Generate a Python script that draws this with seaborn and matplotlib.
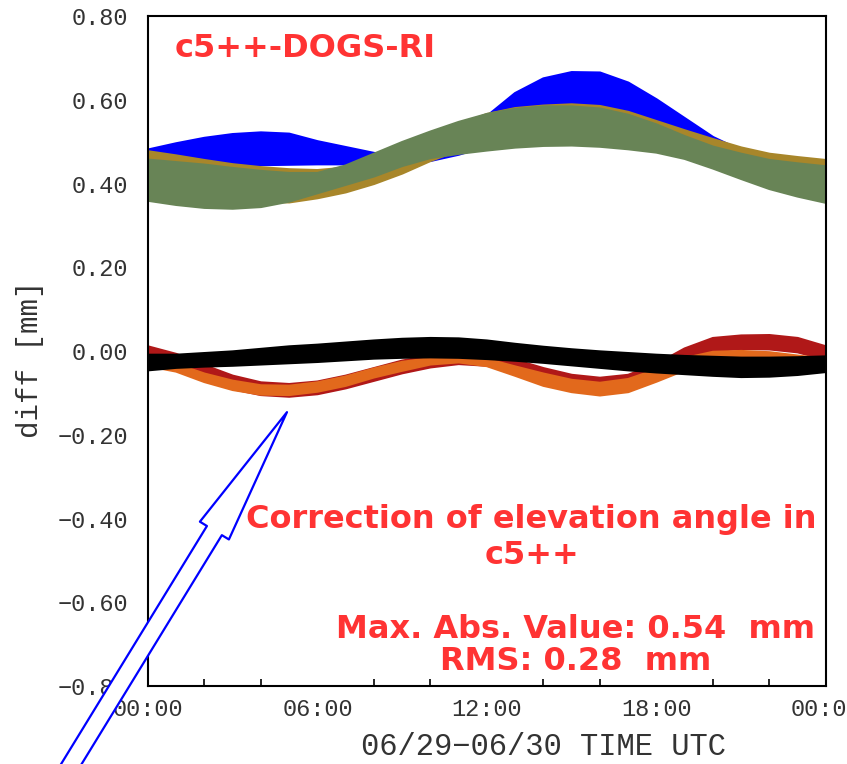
import numpy as np
import pandas as pd
import seaborn as sns
import matplotlib.pyplot as plt
from matplotlib.ticker import MultipleLocator

# hours of the day (06/29 00:00 -> 06/30 00:00)
hours = list(range(25))

# band envelopes (upper / lower edge), mm
blue_top = [0.480, 0.495, 0.508, 0.517, 0.521, 0.518, 0.500, 0.486, 0.472, 0.462, 0.470, 0.510, 0.560,
            0.615, 0.650, 0.665, 0.664, 0.640, 0.600, 0.555, 0.510, 0.478, 0.460, 0.450, 0.440]
blue_bot = [0.440, 0.440, 0.442, 0.444, 0.445, 0.446, 0.447, 0.447, 0.448, 0.451, 0.455, 0.470, 0.490,
            0.505, 0.515, 0.520, 0.520, 0.515, 0.505, 0.490, 0.470, 0.455, 0.440, 0.425, 0.410]
gold_top = [0.476, 0.466, 0.455, 0.445, 0.438, 0.433, 0.431, 0.437, 0.452, 0.480, 0.510, 0.540, 0.565,
            0.579, 0.585, 0.588, 0.584, 0.570, 0.548, 0.526, 0.505, 0.485, 0.470, 0.462, 0.455]
gold_bot = [0.395, 0.385, 0.375, 0.366, 0.358, 0.356, 0.366, 0.380, 0.400, 0.425, 0.455, 0.480, 0.500,
            0.515, 0.522, 0.525, 0.525, 0.522, 0.512, 0.498, 0.484, 0.468, 0.452, 0.442, 0.435]
green_top = [0.456, 0.450, 0.444, 0.436, 0.429, 0.424, 0.424, 0.442, 0.470, 0.498, 0.523, 0.546, 0.565,
             0.577, 0.583, 0.583, 0.578, 0.563, 0.540, 0.512, 0.487, 0.470, 0.455, 0.447, 0.440]
green_bot = [0.360, 0.350, 0.343, 0.341, 0.345, 0.358, 0.378, 0.398, 0.418, 0.443, 0.462, 0.472, 0.480,
             0.487, 0.491, 0.492, 0.489, 0.483, 0.475, 0.460, 0.437, 0.412, 0.388, 0.370, 0.355]
red_top = [0.010, -0.008, -0.035, -0.060, -0.076, -0.080, -0.074, -0.060, -0.042, -0.024, -0.012, -0.006, -0.008,
           -0.022, -0.042, -0.058, -0.065, -0.058, -0.032, 0.005, 0.030, 0.036, 0.037, 0.030, 0.010]
red_bot = [-0.022, -0.040, -0.066, -0.090, -0.104, -0.108, -0.102, -0.088, -0.070, -0.052, -0.038, -0.030, -0.034,
           -0.050, -0.070, -0.086, -0.094, -0.086, -0.060, -0.025, 0.001, 0.006, 0.005, -0.002, -0.020]
orange_top = [-0.018, -0.032, -0.055, -0.072, -0.083, -0.084, -0.076, -0.062, -0.043, -0.027, -0.018, -0.014, -0.020,
              -0.038, -0.055, -0.070, -0.077, -0.068, -0.045, -0.018, -0.003, -0.001, -0.004, -0.012, -0.020]
orange_bot = [-0.035, -0.048, -0.073, -0.092, -0.103, -0.104, -0.096, -0.082, -0.062, -0.046, -0.031, -0.026, -0.035,
              -0.058, -0.082, -0.097, -0.105, -0.097, -0.072, -0.045, -0.027, -0.025, -0.028, -0.035, -0.042]
black_top = [-0.010, -0.010, -0.006, -0.002, 0.004, 0.010, 0.014, 0.019, 0.024, 0.028, 0.030, 0.029, 0.024,
             0.016, 0.009, 0.003, -0.002, -0.006, -0.010, -0.013, -0.015, -0.017, -0.017, -0.016, -0.014]
black_bot = [-0.045, -0.039, -0.036, -0.034, -0.031, -0.028, -0.025, -0.021, -0.017, -0.015, -0.014, -0.015, -0.018,
             -0.022, -0.027, -0.033, -0.039, -0.045, -0.050, -0.054, -0.058, -0.061, -0.060, -0.056, -0.049]

# draw order matters: later bands cover earlier ones
bands = [
    ('blue', blue_top, blue_bot, '#0000FF'),
    ('gold', gold_top, gold_bot, '#A8862A'),
    ('green', green_top, green_bot, '#688456'),
    ('red', red_top, red_bot, '#B01818'),
    ('orange', orange_top, orange_bot, '#E2691C'),
    ('black', black_top, black_bot, '#000000'),
]

xtick_pos = [0, 6, 12, 18, 24]
xtick_labels = ['00:00', '06:00', '12:00', '18:00', '00:00']
ytick_pos = [-0.8, -0.6, -0.4, -0.2, 0.0, 0.2, 0.4, 0.6, 0.8]
ytick_labels = ['\u22120.80', '\u22120.60', '\u22120.40', '\u22120.20', '0.00', '0.20', '0.40', '0.60', '0.80']

sns.set_style('white')
plt.rcParams['font.family'] = ['DejaVu Sans']

fig, ax = plt.subplots(figsize=(8.47, 7.64), dpi=100)
fig.subplots_adjust(left=0.1747, right=0.9752, bottom=0.1021, top=0.979)

for name, top, bot, col in bands:
    df = pd.DataFrame({'hour': hours, 'top': top, 'bot': bot})
    ax.fill_between(df['hour'], df['bot'], df['top'], color=col, lw=0, zorder=2)
    sns.lineplot(data=df, x='hour', y='top', color=col, lw=2.2, ax=ax, zorder=2)
    sns.lineplot(data=df, x='hour', y='bot', color=col, lw=2.2, ax=ax, zorder=2)

ax.set_xlim(0, 24)
ax.set_ylim(-0.8, 0.8)

mono = 'Liberation Mono'
ax.set_xticks(xtick_pos)
ax.set_xticklabels(xtick_labels, fontfamily=mono, fontsize=17, color='#333333')
ax.xaxis.set_minor_locator(MultipleLocator(2))
ax.set_yticks(ytick_pos)
ax.set_yticklabels(ytick_labels, fontfamily=mono, fontsize=17, color='#333333')
ax.tick_params(axis='both', which='major', direction='in', length=9, width=1.3, color='black')
ax.tick_params(axis='x', which='major', pad=9)
ax.tick_params(axis='y', which='major', pad=14)
ax.tick_params(axis='x', which='minor', direction='in', length=5, width=1.2, color='black', bottom=True)

for sp in ax.spines.values():
    sp.set_color('black')
    sp.set_linewidth(1.5)

ax.set_xlabel('06/29\u221206/30 TIME UTC', fontfamily=mono, fontsize=22, color='#333333')
ax.set_ylabel('diff [mm]', fontfamily=mono, fontsize=21, color='#333333')
ax.xaxis.set_label_coords(0.584, -0.068)
ax.yaxis.set_label_coords(-0.153, 0.487)

red = '#FF3333'
ax.text(0.04, 0.952, 'c5++-DOGS-RI', transform=ax.transAxes, color=red,
        fontsize=23, fontweight='bold', ha='left', va='center')
ax.text(0.566, 0.222, 'Correction of elevation angle in\nc5++', transform=ax.transAxes,
        color=red, fontsize=23, fontweight='bold', ha='center', va='center', multialignment='center')
ax.text(0.631, 0.061, 'Max. Abs. Value: 0.54  mm\nRMS: 0.28  mm', transform=ax.transAxes,
        color=red, fontsize=23, fontweight='bold', ha='center', va='center', multialignment='center',
        linespacing=1.05)

# hollow arrow pointing at the lower bands
ax.annotate('', xy=(4.92, -0.146), xytext=(-3.49, -1.072), xycoords='data', textcoords='data',
            annotation_clip=False,
            arrowprops=dict(arrowstyle='simple,head_length=10,head_width=2.45,tail_width=1.26',
                            mutation_scale=10, fc='white', ec='#0000FF', lw=1.6,
                            shrinkA=0, shrinkB=0))

fig.savefig('out.png', dpi=100)
